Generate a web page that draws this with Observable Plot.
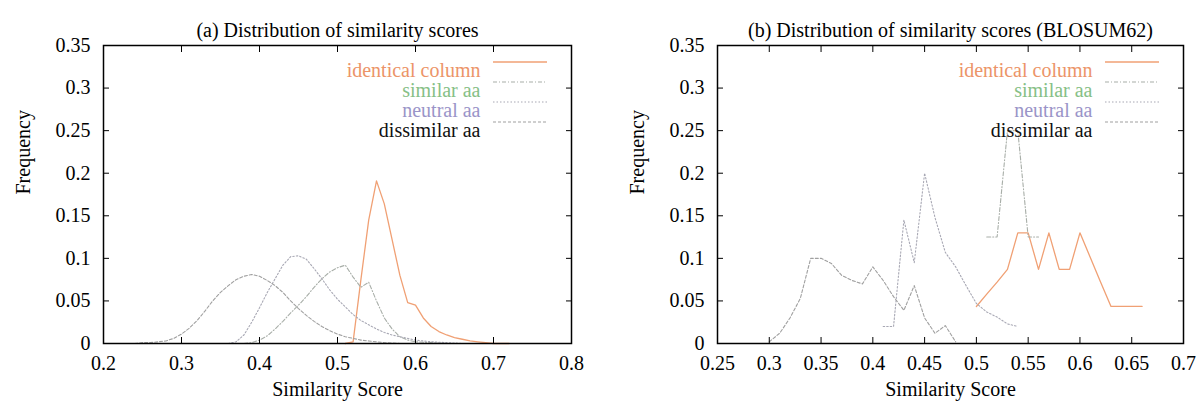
<!DOCTYPE html>
<html><head><meta charset="utf-8">
<script src="https://cdn.jsdelivr.net/npm/d3@7"></script>
<script src="https://cdn.jsdelivr.net/npm/@observablehq/plot@0.6"></script>
<style>
body{margin:0;background:#fff;}
#wrap{display:flex;width:1199px;height:409px;overflow:hidden;}
#wrap svg{display:block;font-family:"Liberation Serif","Times New Roman",Times,serif !important;font-size:20px !important;}
#wrap svg text{font-family:"Liberation Serif","Times New Roman",Times,serif !important;}
</style></head><body><div id="wrap"></div>
<script>
// ---- labels ----
const seriesNames = ["identical column", "similar aa", "neutral aa", "dissimilar aa"];
const legendColors = ["#ec9468", "#86c086", "#9a94c8", "#111111"];
const lineColors = ["#f0a074", "#a8aea8", "#a8a8b4", "#a0a0a0"];
const lineDash = [null, "4,2,1,2", "1.5,2", "3,2"];
const titleA = "(a) Distribution of similarity scores";
const titleB = "(b) Distribution of similarity scores (BLOSUM62)";
const xLabel = "Similarity Score";
const yLabel = "Frequency";
const yTicks = [0, 0.05, 0.1, 0.15, 0.2, 0.25, 0.3, 0.35];
const xTicksA = [0.2, 0.3, 0.4, 0.5, 0.6, 0.7, 0.8];
const xTicksB = [0.25, 0.3, 0.35, 0.4, 0.45, 0.5, 0.55, 0.6, 0.65, 0.7];

// ---- panel (a) data ----
const aIdentX = [0.51, 0.52, 0.53, 0.54, 0.55, 0.56, 0.57, 0.58, 0.59, 0.60, 0.61, 0.62, 0.63, 0.64, 0.65, 0.66, 0.67, 0.68, 0.69, 0.70, 0.72];
const aIdentY = [0, 0.002, 0.075, 0.145, 0.191, 0.164, 0.122, 0.08, 0.048, 0.045, 0.03, 0.02, 0.014, 0.01, 0.007, 0.005, 0.003, 0.002, 0.001, 0, 0];
const aSimX = [0.38, 0.39, 0.40, 0.41, 0.42, 0.43, 0.44, 0.45, 0.46, 0.47, 0.48, 0.49, 0.50, 0.51, 0.52, 0.53, 0.54, 0.55, 0.56, 0.57, 0.58, 0.59, 0.60, 0.62, 0.64];
const aSimY = [0, 0.001, 0.004, 0.009, 0.017, 0.026, 0.036, 0.045, 0.055, 0.066, 0.076, 0.084, 0.089, 0.092, 0.078, 0.066, 0.072, 0.05, 0.03, 0.017, 0.008, 0.004, 0.002, 0.001, 0];
const aNeuX = [0.36, 0.37, 0.38, 0.39, 0.40, 0.41, 0.42, 0.43, 0.44, 0.45, 0.46, 0.47, 0.48, 0.49, 0.50, 0.51, 0.52, 0.53, 0.54, 0.55, 0.56, 0.57, 0.58, 0.59, 0.60, 0.62, 0.64, 0.66];
const aNeuY = [0, 0.002, 0.01, 0.025, 0.042, 0.06, 0.076, 0.092, 0.102, 0.103, 0.099, 0.088, 0.076, 0.063, 0.052, 0.043, 0.034, 0.027, 0.022, 0.017, 0.013, 0.01, 0.008, 0.006, 0.004, 0.002, 0.001, 0];
const aDisX = [0.24, 0.25, 0.26, 0.27, 0.28, 0.29, 0.30, 0.31, 0.32, 0.33, 0.34, 0.35, 0.36, 0.37, 0.38, 0.39, 0.40, 0.41, 0.42, 0.43, 0.44, 0.45, 0.46, 0.47, 0.48, 0.49, 0.50, 0.51, 0.52, 0.53, 0.54, 0.55, 0.56, 0.58];
const aDisY = [0, 0.001, 0.001, 0.002, 0.003, 0.006, 0.011, 0.018, 0.027, 0.038, 0.05, 0.06, 0.068, 0.075, 0.079, 0.081, 0.079, 0.074, 0.068, 0.06, 0.05, 0.041, 0.033, 0.026, 0.02, 0.015, 0.011, 0.008, 0.006, 0.004, 0.003, 0.002, 0.001, 0];

// ---- panel (b) data ----
const bIdentX = [0.50, 0.51, 0.52, 0.53, 0.54, 0.55, 0.56, 0.57, 0.58, 0.59, 0.60, 0.61, 0.62, 0.63, 0.64, 0.65, 0.66];
const bIdentY = [0.0435, 0.058, 0.072, 0.087, 0.13, 0.13, 0.087, 0.13, 0.087, 0.087, 0.13, 0.101, 0.072, 0.0435, 0.0435, 0.0435, 0.0435];
const bSimX = [0.51, 0.52, 0.53, 0.54, 0.55, 0.56];
const bSimY = [0.125, 0.125, 0.25, 0.25, 0.125, 0.125];
const bNeuX = [0.41, 0.42, 0.43, 0.44, 0.45, 0.46, 0.47, 0.48, 0.49, 0.50, 0.51, 0.52, 0.53, 0.54];
const bNeuY = [0.02, 0.02, 0.145, 0.095, 0.2, 0.148, 0.107, 0.09, 0.068, 0.047, 0.037, 0.031, 0.023, 0.02];
const bDisX = [0.30, 0.31, 0.32, 0.33, 0.34, 0.35, 0.36, 0.37, 0.38, 0.39, 0.40, 0.41, 0.42, 0.43, 0.44, 0.45, 0.46, 0.47, 0.48];
const bDisY = [0.002, 0.012, 0.03, 0.053, 0.1, 0.1, 0.094, 0.08, 0.074, 0.07, 0.09, 0.074, 0.055, 0.039, 0.068, 0.03, 0.012, 0.021, 0.002];

function rows(xs, ys) { return xs.map((x, i) => ({x, y: ys[i]})); }

const fontFamily = "'Liberation Serif', 'Times New Roman', Times, serif";

function panel({title, xDomain, xTicks, data, width, marginLeft, marginRight}) {
  const lines = data.map((d, i) => Plot.line(d, {
    x: "x", y: "y", stroke: lineColors[i], strokeWidth: i === 0 ? 1.3 : 1.1,
    strokeDasharray: lineDash[i], curve: "linear"
  }));
  const legendText = seriesNames.map((n, i) => Plot.text([n], {
    frameAnchor: "top-right", dx: -91, dy: 17 + 20 * i, textAnchor: "end",
    fill: legendColors[i], text: d => d, fontSize: 20
  }));
  const legendLines = (index, scales, values, dims) => {
    const g = d3.create("svg:g");
    const right = dims.width - dims.marginRight;
    seriesNames.forEach((n, i) => {
      g.append("line")
        .attr("x1", right - 78).attr("x2", right - 24)
        .attr("y1", dims.marginTop + 17 + 20 * i).attr("y2", dims.marginTop + 17 + 20 * i)
        .attr("stroke", lineColors[i]).attr("stroke-width", i === 0 ? 1.3 : 1.1)
        .attr("stroke-dasharray", lineDash[i]);
    });
    return g.node();
  };
  return Plot.plot({
    width, height: 409, marginLeft, marginRight, marginTop: 45, marginBottom: 66,
    style: {fontFamily, fontSize: "20px", background: "#fff", color: "#000"},
    x: {domain: xDomain, label: null},
    y: {domain: [0, 0.35], label: null},
    marks: [
      ...lines,
      Plot.frame({stroke: "#000", strokeWidth: 1.5}),
      Plot.axisX(xTicks, {anchor: "bottom", tickSize: -6, fill: "none", label: null}),
      Plot.axisX(xTicks, {anchor: "top", tickSize: -6, fill: "none", label: null}),
      Plot.axisX(xTicks, {anchor: "bottom", tickSize: 0, tickPadding: 12, tickFormat: d => String(d), label: null, fontSize: 20}),
      Plot.axisY(yTicks, {anchor: "left", tickSize: -6, fill: "none", label: null}),
      Plot.axisY(yTicks, {anchor: "left", tickSize: 0, tickPadding: 13, tickFormat: d => String(d), label: null, fontSize: 20}),
      Plot.axisY(yTicks, {anchor: "right", tickSize: -6, fill: "none", label: null}),
      Plot.text([title], {frameAnchor: "top", dy: -23, text: d => d, fontSize: 20}),
      Plot.text([xLabel], {frameAnchor: "bottom", dy: 52, text: d => d, fontSize: 20}),
      Plot.text([yLabel], {frameAnchor: "left", dx: -80, rotate: -90, text: d => d, fontSize: 20}),
      ...legendText,
      legendLines
    ]
  });
}

const wrap = document.getElementById("wrap");
wrap.appendChild(panel({
  title: titleA, xDomain: [0.2, 0.8], xTicks: xTicksA,
  data: [rows(aIdentX, aIdentY), rows(aSimX, aSimY), rows(aNeuX, aNeuY), rows(aDisX, aDisY)],
  width: 600, marginLeft: 103, marginRight: 29
}));
wrap.appendChild(panel({
  title: titleB, xDomain: [0.25, 0.7], xTicks: xTicksB,
  data: [rows(bIdentX, bIdentY), rows(bSimX, bSimY), rows(bNeuX, bNeuY), rows(bDisX, bDisY)],
  width: 599, marginLeft: 117, marginRight: 16
}));
</script></body></html>
